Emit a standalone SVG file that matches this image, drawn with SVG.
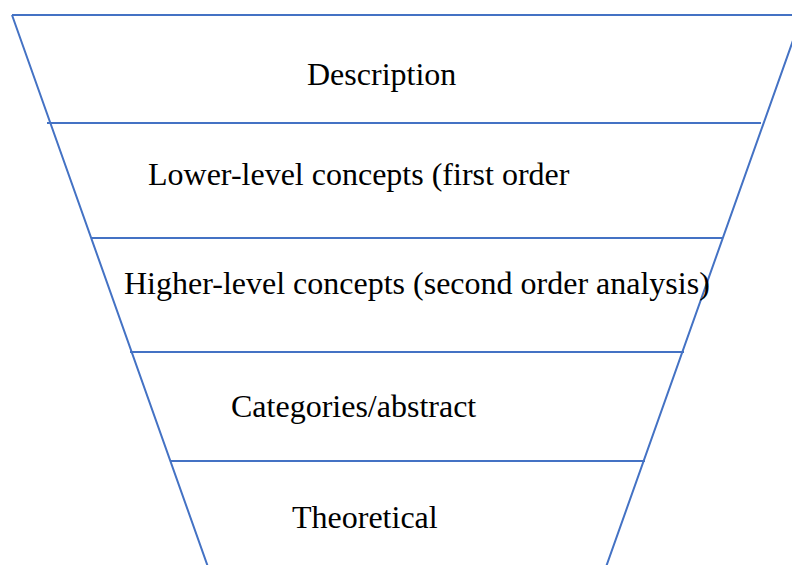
<svg xmlns="http://www.w3.org/2000/svg" width="792" height="565" viewBox="0 0 792 565">
<style>
.ln{stroke:#4472C4;stroke-width:2;fill:none;stroke-linecap:butt}
.t{font-family:"Liberation Serif","Times New Roman",serif;font-size:32px;fill:#000}
</style>
<rect width="792" height="565" fill="#fff"/>
<g id="funnel">
<path class="ln" d="M12,15 H802 M12,15 L208,567 M802,15 L606,567"/>
</g>
<g id="connectors">
<line class="ln" x1="47" y1="123" x2="761" y2="123"/>
<line class="ln" x1="91" y1="238" x2="723" y2="238"/>
<line class="ln" x1="130" y1="352" x2="684" y2="352"/>
<line class="ln" x1="171" y1="461" x2="645" y2="461"/>
</g>
<g id="description"><text class="t" x="307" y="85">Description</text></g>
<g id="lower"><text class="t" x="148" y="185">Lower-level concepts (first order</text></g>
<g id="higher"><text class="t" x="124" y="294">Higher-level concepts (second order analysis)</text></g>
<g id="categories"><text class="t" x="231" y="417">Categories/abstract</text></g>
<g id="theoretical"><text class="t" x="292" y="528">Theoretical</text></g>
</svg>
